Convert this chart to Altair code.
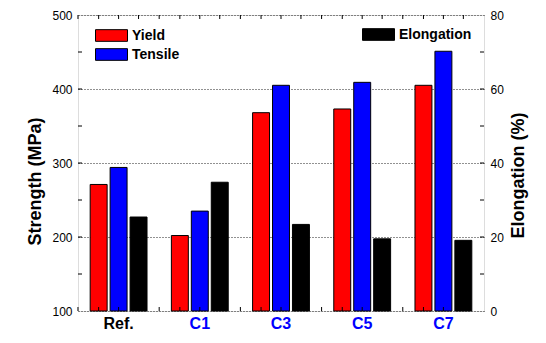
import altair as alt
import pandas as pd

categories = ["Ref.", "C1", "C3", "C5", "C7"]
yield_mpa = [271, 202, 368, 373, 405]
tensile_mpa = [294, 235, 405, 409, 451]
elongation_pct = [25.4, 34.8, 23.4, 19.5, 19.1]
series_names = ["Yield", "Tensile", "Elongation"]
left_tick_values = [150, 200, 250, 300, 350, 400, 450]
left_label_values = [100, 200, 300, 400, 500]
right_tick_values = [10, 20, 30, 40, 50, 60, 70]
right_label_values = [0, 20, 40, 60, 80]

W, H = 406, 296

strength = pd.DataFrame(
    [{"category": c, "series": "Yield", "value": v} for c, v in zip(categories, yield_mpa)]
    + [{"category": c, "series": "Tensile", "value": v} for c, v in zip(categories, tensile_mpa)]
)
elong = pd.DataFrame(
    [{"category": c, "series": "Elongation", "value": v} for c, v in zip(categories, elongation_pct)]
)
bar_ticks = pd.DataFrame(
    [{"category": c, "series": s} for c in categories for s in series_names]
)
cat_df = pd.DataFrame({"category": categories})
lt = pd.DataFrame({"v": left_tick_values})
rt = pd.DataFrame({"v": right_tick_values})

FONT = "Liberation Sans"

x_enc = alt.X(
    "category:N",
    sort=categories,
    scale=alt.Scale(paddingInner=0.3, paddingOuter=0.15),
    axis=alt.Axis(
        title=None,
        labelAngle=0,
        ticks=False,
        tickSize=0,
        domain=False,
        labelFont=FONT,
        labelFontSize=16,
        labelFontWeight="bold",
        labelPadding=4,
        labelColor=alt.condition(alt.datum.value == "Ref.", alt.value("black"), alt.value("blue")),
    ),
)
xoff_enc = alt.XOffset(
    "series:N",
    sort=series_names,
    scale=alt.Scale(domain=series_names, paddingInner=0.15, paddingOuter=0),
)

y_left = alt.Y(
    "value:Q",
    scale=alt.Scale(domain=[100, 500], zero=False, nice=False),
    axis=alt.Axis(
        title="Strength (MPa)",
        values=left_label_values,
        ticks=False,
        tickSize=0,
        domain=False,
        grid=True,
        gridDash=[1, 2],
        gridColor="#222222",
        gridWidth=1,
        labelFont=FONT,
        labelFontSize=12,
        labelPadding=6,
        titleFont=FONT,
        titleFontSize=18,
        titleFontWeight="bold",
        titleAngle=270,
        titleAlign="center",
        titleBaseline="middle",
        titleX=-43,
        titleY=166,
    ),
)
y_right = alt.Y(
    "value:Q",
    scale=alt.Scale(domain=[0, 80], nice=False),
    axis=alt.Axis(
        orient="right",
        title="Elongation (%)",
        values=right_label_values,
        ticks=False,
        tickSize=0,
        domain=False,
        grid=False,
        labelFont=FONT,
        labelFontSize=12,
        labelPadding=6,
        titleFont=FONT,
        titleFontSize=18,
        titleFontWeight="bold",
        titleAngle=270,
        titleAlign="center",
        titleBaseline="middle",
        titleX=34,
        titleY=160,
    ),
)

legend_common = dict(
    title=None,
    orient="none",
    symbolType="M-2,-0.73H2V0.73H-2Z",
    symbolSize=256,
    symbolStrokeColor="black",
    symbolStrokeWidth=1,
    labelFont=FONT,
    labelFontSize=14,
    labelFontWeight="bold",
    labelOffset=12,
    rowPadding=2,
    padding=0,
)

bars_left = alt.Chart(strength).mark_bar(stroke="black", strokeWidth=1).encode(
    x=x_enc,
    xOffset=xoff_enc,
    y=y_left,
    y2=alt.datum(100),
    color=alt.Color(
        "series:N",
        sort=["Yield", "Tensile"],
        scale=alt.Scale(domain=["Yield", "Tensile"], range=["#FF0000", "#0000FF"]),
        legend=alt.Legend(legendX=25, legendY=12, **legend_common),
    ),
)
left_ticks = alt.Chart(lt).mark_rule(color="black", strokeWidth=1).encode(
    y=alt.Y("v:Q", scale=alt.Scale(domain=[100, 500], zero=False, nice=False)),
    x=alt.value(0),
    x2=alt.value(4),
)
left_layer = alt.layer(bars_left, left_ticks)

bars_right = alt.Chart(elong).mark_bar(stroke="black", strokeWidth=1).encode(
    x=x_enc,
    xOffset=xoff_enc,
    y=y_right,
    color=alt.Color(
        "series:N",
        scale=alt.Scale(domain=["Elongation"], range=["#000000"]),
        legend=alt.Legend(legendX=292, legendY=11, **legend_common),
    ),
)
right_ticks = alt.Chart(rt).mark_rule(color="black", strokeWidth=1).encode(
    y=alt.Y("v:Q", scale=alt.Scale(domain=[0, 80], nice=False)),
    x=alt.value(W - 4),
    x2=alt.value(W),
)
right_layer = alt.layer(bars_right, right_ticks)

# small category ticks on top and bottom frame
bt_top = alt.Chart(bar_ticks).mark_rule(color="black", strokeWidth=1).encode(
    x=alt.X("category:N", sort=categories), xOffset=xoff_enc,
    y=alt.value(0), y2=alt.value(4),
)
bt_bot = alt.Chart(bar_ticks).mark_rule(color="black", strokeWidth=1).encode(
    x=alt.X("category:N", sort=categories), xOffset=xoff_enc,
    y=alt.value(H - 4), y2=alt.value(H),
)
gb_top = alt.Chart(cat_df).mark_rule(color="black", strokeWidth=1, xOffset=-12.2).encode(
    x=alt.X("category:N", sort=categories, bandPosition=0),
    y=alt.value(0), y2=alt.value(4),
)
gb_bot = alt.Chart(cat_df).mark_rule(color="black", strokeWidth=1, xOffset=-12.2).encode(
    x=alt.X("category:N", sort=categories, bandPosition=0),
    y=alt.value(H - 4), y2=alt.value(H),
)
frame_layer = alt.layer(bt_top, bt_bot, gb_top, gb_bot)

chart = (
    alt.layer(left_layer, right_layer, frame_layer)
    .resolve_scale(y="independent", color="independent")
    .properties(
        width=W,
        height=H,
        autosize=alt.AutoSizeParams(type="none"),
        padding={"left": 70, "top": 7, "right": 54, "bottom": 24},
    )
    .configure_view(stroke="black", strokeWidth=1.5)
    .configure(background="white")
)

chart.save("out.html", embed_options={"renderer": "svg", "actions": False})
